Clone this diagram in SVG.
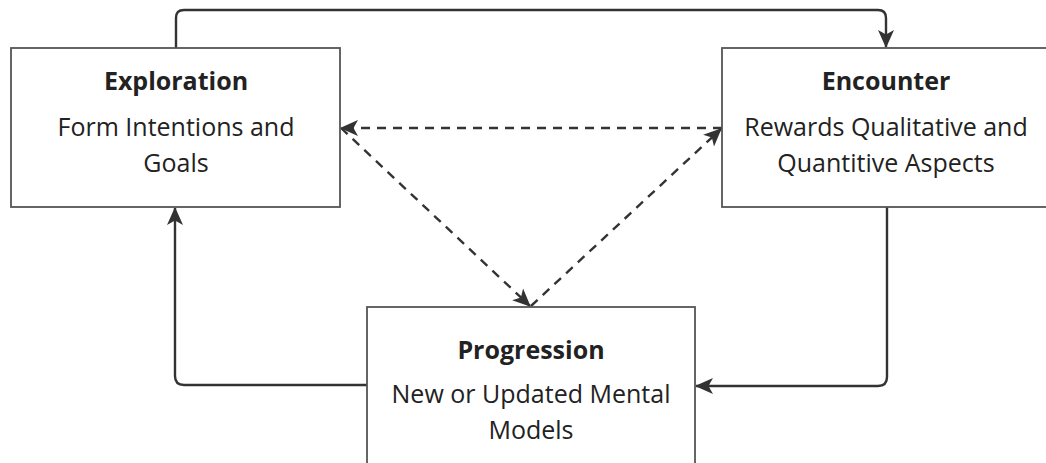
<svg xmlns="http://www.w3.org/2000/svg" width="1046" height="463" viewBox="0 0 1046 463">
  <style>
    .box { fill: #ffffff; stroke: #555555; stroke-width: 1.8; }
    .title { font-family: "Open Sans", "Noto Sans", sans-serif; font-size: 25px; font-weight: 700; fill: #222222; text-anchor: middle; }
    .body { font-family: "Open Sans", "Noto Sans", sans-serif; font-size: 25px; fill: #222222; text-anchor: middle; }
    .link { fill: none; stroke: #333333; stroke-width: 2.4; }
    .dash { stroke-dasharray: 9 7; }
  </style>
  <defs>
    <marker id="arrow" markerUnits="userSpaceOnUse" markerWidth="20" markerHeight="18" refX="17" refY="9" orient="auto">
      <path d="M0,1 L18,9 L0,17 L4.5,9 Z" fill="#333333"/>
    </marker>
  </defs>

  <rect width="1046" height="463" fill="#ffffff"/>

  <!-- connectors -->
  <g id="connectors">
    <path class="link" d="M176,48 V18 Q176,10 184,10 H878 Q886,10 886,18 V47" marker-end="url(#arrow)"/>
    <path class="link" d="M887,207 V377 Q887,386 878,386 H696" marker-end="url(#arrow)"/>
    <path class="link" d="M367,385 H184 Q175,385 175,376 V208" marker-end="url(#arrow)"/>
    <path class="link dash" d="M722,128 H341" marker-end="url(#arrow)"/>
    <path class="link dash" d="M341,128 L530,306" marker-end="url(#arrow)"/>
    <path class="link dash" d="M531,306 L721,129" marker-end="url(#arrow)"/>
  </g>

  <!-- nodes -->
  <g id="exploration">
    <rect class="box" x="11" y="48" width="329" height="159"/>
    <text class="title" x="176" y="90">Exploration</text>
    <text class="body" x="176" y="136">Form Intentions and</text>
    <text class="body" x="176" y="172">Goals</text>
  </g>

  <g id="encounter">
    <rect class="box" x="722" y="48" width="330" height="159"/>
    <text class="title" x="886" y="90">Encounter</text>
    <text class="body" x="886" y="136">Rewards Qualitative and</text>
    <text class="body" x="886" y="172">Quantitive Aspects</text>
  </g>

  <g id="progression">
    <rect class="box" x="367" y="307" width="328" height="170"/>
    <text class="title" x="531" y="359">Progression</text>
    <text class="body" x="531" y="403">New or Updated Mental</text>
    <text class="body" x="531" y="439">Models</text>
  </g>
</svg>
